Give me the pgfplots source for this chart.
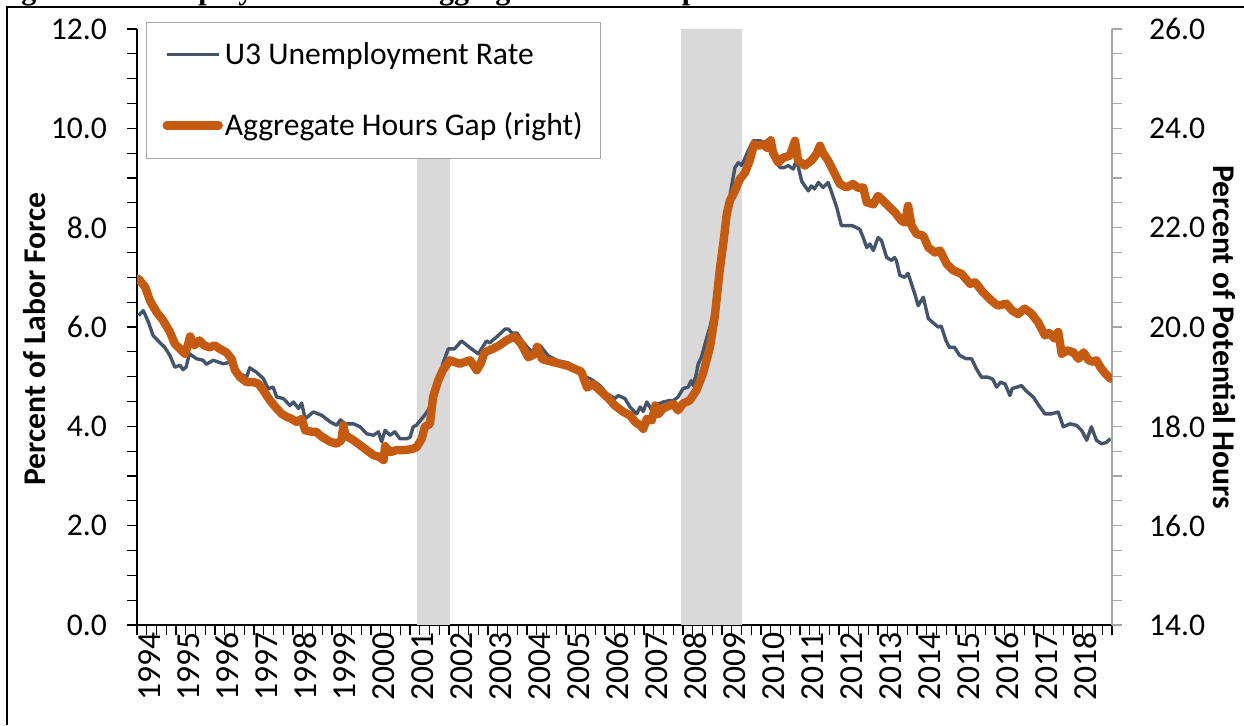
\documentclass[border=0pt]{standalone}
\usepackage{fontspec}
\setmainfont{Carlito}
\newfontfamily\titlefont{Liberation Serif}
\usepackage{pgfplots}
\pgfplotsset{compat=1.18}
\definecolor{uthree}{RGB}{68,84,106}
\definecolor{hgap}{RGB}{197,90,17}
\definecolor{recess}{RGB}{217,217,217}
\pgfplotsset{mybase/.style={
  at={(68.5pt,50pt)}, anchor=south west, scale only axis,
  width=487.5pt, height=298pt,
  xmin=1993.9583, xmax=2018.9590,
  tick label style={font=\fontsize{15.8}{19}\selectfont},
  /pgf/number format/assume math mode=true,
  tick align=outside, major tick length=5pt, minor tick length=5pt,
  minor y tick num=3,
  yticklabel style={/pgf/number format/fixed, /pgf/number format/fixed zerofill, /pgf/number format/precision=1},
}}
\begin{document}
\begin{tikzpicture}
\path[use as bounding box] (0,0) rectangle (622pt,362.5pt);
\clip (0,0) rectangle (622pt,362.5pt);
\draw[black, line width=0.8pt] (3.4pt,0) -- (3.4pt,359.1pt) -- (630pt,359.1pt);
\node[anchor=base west, inner sep=0pt] at (-2.8pt,362.6pt)
  {\titlefont\bfseries\fontsize{15}{18}\selectfont Figure 1: Unemployment vs. the Aggregate Hours Gap};

\begin{axis}[mybase,
  ymin=0, ymax=12,
  axis y line*=left, axis x line*=bottom,
  axis line style={-, black, line width=0.6pt},
  tick style={black, line width=0.6pt},
  ytick={0,2,...,12},
  yticklabel style={/tikz/xshift=-6.5pt},
  xtick={1993.9583,1994.2083,1994.4583,1994.7083,1994.9583,1995.2083,1995.4583,1995.7083,1995.9583,1996.2083,1996.4583,1996.7083,1996.9583,1997.2083,1997.4583,1997.7083,1997.9583,1998.2083,1998.4583,1998.7083,1998.9583,1999.2083,1999.4583,1999.7083,1999.9583,2000.2083,2000.4583,2000.7083,2000.9583,2001.2083,2001.4583,2001.7083,2001.9583,2002.2083,2002.4583,2002.7083,2002.9583,2003.2083,2003.4583,2003.7083,2003.9583,2004.2083,2004.4583,2004.7083,2004.9583,2005.2083,2005.4583,2005.7083,2005.9583,2006.2083,2006.4583,2006.7083,2006.9583,2007.2083,2007.4583,2007.7083,2007.9583,2008.2083,2008.4583,2008.7083,2008.9583,2009.2083,2009.4583,2009.7083,2009.9583,2010.2083,2010.4583,2010.7083,2010.9583,2011.2083,2011.4583,2011.7083,2011.9583,2012.2083,2012.4583,2012.7083,2012.9583,2013.2083,2013.4583,2013.7083,2013.9583,2014.2083,2014.4583,2014.7083,2014.9583,2015.2083,2015.4583,2015.7083,2015.9583,2016.2083,2016.4583,2016.7083,2016.9583,2017.2083,2017.4583,2017.7083,2017.9583,2018.2083,2018.4583,2018.7083,2018.9583},
  xticklabels={},
  extra x ticks={1994,1995,...,2018},
  extra x tick labels={1994,1995,1996,1997,1998,1999,2000,2001,2002,2003,2004,2005,2006,2007,2008,2009,2010,2011,2012,2013,2014,2015,2016,2017,2018},
  extra x tick style={major tick length=0pt, xticklabel style={rotate=90, anchor=east, yshift=-5.5pt, font=\fontsize{16.8}{19}\selectfont}},
  ylabel={Percent of Labor Force},
  ylabel style={font=\bfseries\fontsize{15.8}{19}\selectfont, at={(axis description cs:-0.1046,0.48)}, anchor=center},
]
\addplot[fill=recess, draw=none, forget plot] coordinates {(2001.14,0) (2001.14,12) (2001.98,12) (2001.98,0)} -- cycle;
\addplot[fill=recess, draw=none, forget plot] coordinates {(2007.91,0) (2007.91,12) (2009.47,12) (2009.47,0)} -- cycle;
\addplot[uthree, line width=1.7pt, line join=round] coordinates {
(1994.00,6.23) (1994.12,6.33) (1994.25,6.10) (1994.37,5.83) (1994.54,5.69) (1994.67,5.59)
(1994.80,5.43) (1994.93,5.19) (1995.06,5.23) (1995.14,5.14) (1995.22,5.20) (1995.30,5.46)
(1995.49,5.36) (1995.65,5.33) (1995.74,5.25) (1995.91,5.33) (1996.17,5.26) (1996.34,5.29)
(1996.45,5.20) (1996.60,5.06) (1996.77,4.99) (1996.85,5.18) (1997.02,5.09) (1997.20,4.96)
(1997.32,4.76) (1997.45,4.79) (1997.54,4.59) (1997.71,4.56) (1997.88,4.42) (1997.97,4.49)
(1998.10,4.36) (1998.18,4.47) (1998.27,4.15) (1998.48,4.29) (1998.70,4.22) (1998.91,4.09)
(1999.08,4.02) (1999.17,4.13) (1999.30,4.05) (1999.51,4.05) (1999.68,3.99) (1999.85,3.85)
(2000.02,3.82) (2000.15,3.89) (2000.23,3.69) (2000.32,3.92) (2000.45,3.82) (2000.57,3.89)
(2000.70,3.75) (2000.87,3.75) (2000.96,3.78) (2001.04,3.99) (2001.12,4.02) (2001.30,4.19)
(2001.42,4.32) (2001.55,4.52) (2001.68,4.79) (2001.80,5.26) (2001.94,5.56) (2002.10,5.56)
(2002.28,5.72) (2002.50,5.58) (2002.71,5.46) (2002.92,5.72) (2003.00,5.68) (2003.18,5.80)
(2003.40,5.96) (2003.48,5.96) (2003.57,5.88) (2003.70,5.88) (2003.85,5.70) (2004.04,5.53)
(2004.20,5.50) (2004.30,5.62) (2004.50,5.42) (2004.75,5.32) (2005.00,5.28) (2005.20,5.20)
(2005.40,5.02) (2005.60,4.95) (2005.83,4.82) (2006.00,4.66) (2006.21,4.56) (2006.30,4.62)
(2006.47,4.56) (2006.60,4.39) (2006.77,4.25) (2006.86,4.39) (2006.94,4.30) (2007.03,4.49)
(2007.16,4.32) (2007.25,4.42) (2007.45,4.49) (2007.62,4.52) (2007.72,4.52) (2007.83,4.59)
(2007.96,4.76) (2008.09,4.79) (2008.17,4.92) (2008.22,4.82) (2008.30,5.06) (2008.35,5.26)
(2008.43,5.39) (2008.56,5.76) (2008.65,6.00) (2008.77,6.40) (2008.90,7.07) (2009.03,7.80)
(2009.12,8.47) (2009.20,8.81) (2009.29,9.21) (2009.38,9.31) (2009.46,9.25) (2009.55,9.40)
(2009.63,9.55) (2009.76,9.75) (2009.93,9.75) (2010.06,9.72) (2010.19,9.80) (2010.27,9.65)
(2010.36,9.31) (2010.45,9.21) (2010.55,9.21) (2010.66,9.25) (2010.79,9.18) (2010.87,9.38)
(2011.00,8.94) (2011.17,8.74) (2011.25,8.84) (2011.33,8.78) (2011.43,8.91) (2011.55,8.81)
(2011.68,8.91) (2011.77,8.71) (2011.90,8.41) (2012.02,8.04) (2012.30,8.04) (2012.49,7.97)
(2012.58,7.80) (2012.67,7.60) (2012.75,7.67) (2012.84,7.54) (2012.96,7.80) (2013.05,7.74)
(2013.18,7.40) (2013.31,7.34) (2013.38,7.40) (2013.43,7.34) (2013.52,7.04) (2013.64,7.00)
(2013.73,7.08) (2013.90,6.67) (2013.99,6.43) (2014.12,6.60) (2014.25,6.17) (2014.41,6.06)
(2014.50,6.00) (2014.58,6.02) (2014.70,5.73) (2014.79,5.59) (2014.92,5.59) (2015.05,5.43)
(2015.22,5.36) (2015.36,5.36) (2015.48,5.16) (2015.61,4.99) (2015.78,4.99) (2015.90,4.95)
(2016.00,4.79) (2016.10,4.89) (2016.22,4.85) (2016.34,4.62) (2016.40,4.76) (2016.64,4.82)
(2016.75,4.72) (2016.94,4.59) (2017.11,4.39) (2017.24,4.25) (2017.40,4.25) (2017.58,4.29)
(2017.71,3.99) (2017.88,4.05) (2018.05,4.02) (2018.18,3.92) (2018.31,3.72) (2018.43,3.99)
(2018.56,3.72) (2018.69,3.65) (2018.80,3.67) (2018.92,3.75)
};
\end{axis}

\begin{axis}[mybase,
  ymin=14, ymax=26,
  axis y line*=right, axis x line=none,
  axis line style={-, black!35, line width=0.6pt},
  tick style={black!35, line width=0.6pt},
  ytick={14,16,...,26},
  yticklabel style={/tikz/xshift=10pt},
  every axis y label/.style={at={(axis description cs:1.1155,0.483)}, anchor=center, rotate=-90, font=\bfseries\fontsize{15.8}{19}\selectfont},
  ylabel={Percent of Potential Hours},
  legend cell align=left,
  legend image code/.code={\draw[#1] (0pt,0pt) -- (26pt,0pt);},
  legend style={at={(axis description cs:0.00923,1.0117)}, anchor=north west,
    draw=black!35, line width=0.5pt, fill=white, inner xsep=8pt, inner ysep=9pt,
    row sep=20.5pt, font=\fontsize{15.8}{19}\selectfont, nodes={inner sep=1pt}},
]
\addlegendimage{uthree, line width=1.5pt}
\addlegendentry{U3 Unemployment Rate}
\addplot[hgap, line width=4.2pt, line join=round, line cap=round] coordinates {
(1994.00,20.97) (1994.17,20.80) (1994.29,20.53) (1994.46,20.30) (1994.63,20.13) (1994.80,19.90)
(1994.93,19.66) (1995.06,19.56) (1995.19,19.46) (1995.25,19.60) (1995.32,19.81) (1995.43,19.63)
(1995.56,19.73) (1995.68,19.63) (1995.82,19.59) (1995.95,19.63) (1996.08,19.56) (1996.25,19.49)
(1996.38,19.36) (1996.47,19.13) (1996.60,18.99) (1996.77,18.89) (1996.94,18.89) (1997.07,18.86)
(1997.20,18.72) (1997.37,18.52) (1997.54,18.36) (1997.67,18.25) (1997.80,18.19) (1997.92,18.15)
(1998.05,18.09) (1998.18,18.15) (1998.27,17.92) (1998.44,17.89) (1998.55,17.89) (1998.70,17.79)
(1998.91,17.69) (1999.08,17.65) (1999.20,17.72) (1999.25,18.02) (1999.30,17.82) (1999.51,17.72)
(1999.68,17.62) (1999.85,17.52) (2000.02,17.42) (2000.19,17.38) (2000.28,17.32) (2000.32,17.60)
(2000.45,17.48) (2000.60,17.52) (2000.79,17.52) (2001.00,17.54) (2001.13,17.58) (2001.26,17.75)
(2001.34,17.99) (2001.47,18.05) (2001.55,18.59) (2001.68,18.92) (2001.80,19.13) (2001.98,19.33)
(2002.23,19.26) (2002.50,19.33) (2002.67,19.13) (2002.77,19.26) (2002.87,19.49) (2003.08,19.56)
(2003.25,19.63) (2003.43,19.73) (2003.64,19.81) (2003.81,19.66) (2003.99,19.39) (2004.15,19.45)
(2004.22,19.60) (2004.35,19.35) (2004.60,19.30) (2004.85,19.25) (2005.00,19.22) (2005.20,19.15)
(2005.35,19.10) (2005.50,18.78) (2005.65,18.85) (2005.83,18.72) (2006.05,18.56) (2006.21,18.42)
(2006.43,18.29) (2006.60,18.22) (2006.73,18.09) (2006.86,18.02) (2006.94,17.95) (2007.03,18.15)
(2007.16,18.12) (2007.25,18.42) (2007.33,18.25) (2007.45,18.36) (2007.62,18.42) (2007.72,18.45)
(2007.83,18.32) (2007.96,18.46) (2008.13,18.52) (2008.30,18.72) (2008.47,19.06) (2008.65,19.59)
(2008.77,20.19) (2008.90,21.14) (2008.99,21.67) (2009.08,22.27) (2009.16,22.54) (2009.29,22.74)
(2009.42,22.98) (2009.55,23.11) (2009.67,23.35) (2009.78,23.68) (2009.90,23.65) (2010.02,23.68)
(2010.12,23.60) (2010.21,23.76) (2010.27,23.50) (2010.40,23.31) (2010.53,23.41) (2010.70,23.45)
(2010.83,23.75) (2010.91,23.35) (2011.08,23.25) (2011.25,23.35) (2011.38,23.48) (2011.47,23.65)
(2011.55,23.50) (2011.68,23.35) (2011.81,23.15) (2011.98,22.88) (2012.15,22.81) (2012.32,22.88)
(2012.45,22.80) (2012.58,22.81) (2012.67,22.51) (2012.84,22.47) (2012.96,22.64) (2013.08,22.55)
(2013.22,22.44) (2013.39,22.31) (2013.56,22.14) (2013.65,22.10) (2013.73,22.44) (2013.82,22.04)
(2013.95,21.87) (2014.12,21.84) (2014.25,21.60) (2014.42,21.50) (2014.55,21.54) (2014.72,21.27)
(2014.89,21.14) (2015.10,21.07) (2015.32,20.87) (2015.45,20.90) (2015.65,20.70) (2015.87,20.53)
(2016.03,20.43) (2016.25,20.47) (2016.40,20.33) (2016.55,20.26) (2016.72,20.37) (2016.88,20.28)
(2017.06,20.10) (2017.24,19.83) (2017.35,19.88) (2017.48,19.77) (2017.58,19.90) (2017.67,19.46)
(2017.80,19.53) (2017.97,19.49) (2018.10,19.36) (2018.23,19.49) (2018.36,19.33) (2018.48,19.30)
(2018.56,19.33) (2018.66,19.19) (2018.79,19.06) (2018.92,18.96)
};
\addlegendentry{Aggregate Hours Gap (right)}
\end{axis}
\end{tikzpicture}
\end{document}
